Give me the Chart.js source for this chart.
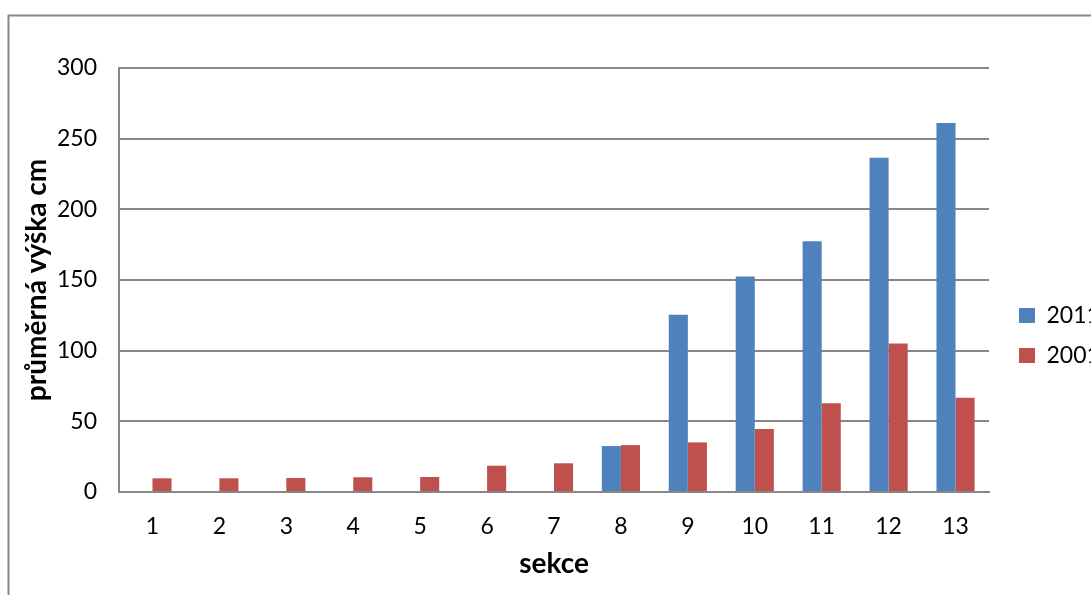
<!DOCTYPE html>
<html lang="cs">
<head>
<meta charset="utf-8">
<title>průměrná výška cm</title>
<script src="https://cdn.jsdelivr.net/npm/chart.js@4/dist/chart.umd.min.js"></script>
<style>
  html, body { margin: 0; padding: 0; background: #ffffff; }
  #wrap { width: 1091px; height: 595px; }
</style>
</head>
<body>
<div id="wrap"><canvas id="c" width="1091" height="595"></canvas></div>
<script>
// Section numbers along the x axis
const categories = ['1', '2', '3', '4', '5', '6', '7', '8', '9', '10', '11', '12', '13'];
// Average height in cm per section, two survey years
const series2011 = [null, null, null, null, null, null, null, 32.5, 125.5, 152.5, 177.5, 236.5, 261];
const series2001 = [9.7, 9.7, 9.9, 10.4, 10.6, 18.6, 20.3, 33.2, 35.1, 44.6, 62.8, 105, 66.6];
const seriesNames = ['2011', '2001'];
// Value axis
const yMin = 0;
const yMax = 300;
const yStep = 50;
const yTitle = 'průměrná výška cm';
const xTitle = 'sekce';

const FONT = 'Lato, "Open Sans", "DejaVu Sans", sans-serif';
const LINE = '#878787';

// Grey frame around the whole chart
const framePlugin = {
  id: 'frame',
  beforeDraw(chart) {
    const ctx = chart.ctx;
    ctx.save();
    ctx.fillStyle = '#ffffff';
    ctx.fillRect(0, 0, chart.width, chart.height);
    ctx.strokeStyle = LINE;
    ctx.lineWidth = 2;
    ctx.strokeRect(8.5, 15.5, 2000, 2000);
    ctx.restore();
  }
};

new Chart(document.getElementById('c'), {
  type: 'bar',
  data: {
    labels: categories,
    datasets: [
      { label: seriesNames[0], data: series2011, backgroundColor: '#4F81BD', borderWidth: 0 },
      { label: seriesNames[1], data: series2001, backgroundColor: '#C0504D', borderWidth: 0 }
    ]
  },
  options: {
    responsive: false,
    animation: false,
    devicePixelRatio: 1,
    categoryPercentage: 0.57,
    barPercentage: 1,
    layout: { padding: { top: 68, left: 0, right: 0, bottom: -8 } },
    plugins: {
      tooltip: { enabled: false },
      legend: {
        position: 'right',
        align: 'center',
        maxWidth: 89,
        labels: {
          font: { family: FONT, size: 23 },
          color: '#000000',
          boxWidth: 16,
          boxHeight: 15,
          padding: 17
        }
      }
    },
    scales: {
      x: {
        type: 'category',
        offset: true,
        grid: { display: false, drawTicks: false },
        border: { display: true, color: LINE, width: 2 },
        ticks: { font: { family: FONT, size: 23 }, color: '#000000', padding: 21, maxRotation: 0 },
        title: {
          display: true,
          text: xTitle,
          font: { family: FONT, size: 28, weight: 'bold' },
          color: '#000000',
          padding: { top: 0, bottom: 22 }
        },
        afterFit(s) { s.height = 111; s.paddingLeft = 0; s.paddingRight = 0; }
      },
      y: {
        min: yMin,
        max: yMax,
        position: 'left',
        grid: { display: true, color: LINE, lineWidth: 2, drawTicks: false },
        border: { display: true, color: LINE, width: 2 },
        ticks: { stepSize: yStep, font: { family: FONT, size: 23 }, color: '#000000', padding: 22 },
        title: {
          display: true,
          text: yTitle,
          font: { family: FONT, size: 28, weight: 'bold' },
          color: '#000000',
          padding: { top: 20, bottom: 0 }
        },
        afterFit(s) { s.width = 119; s.paddingTop = 0; s.paddingBottom = 0; }
      },
      gap: {
        type: 'linear',
        position: 'right',
        display: true,
        grid: { display: false, drawTicks: false },
        border: { display: false },
        ticks: { display: false },
        afterFit(s) { s.width = 13; s.paddingTop = 0; s.paddingBottom = 0; }
      }
    }
  },
  plugins: [framePlugin]
});
</script>
</body>
</html>
